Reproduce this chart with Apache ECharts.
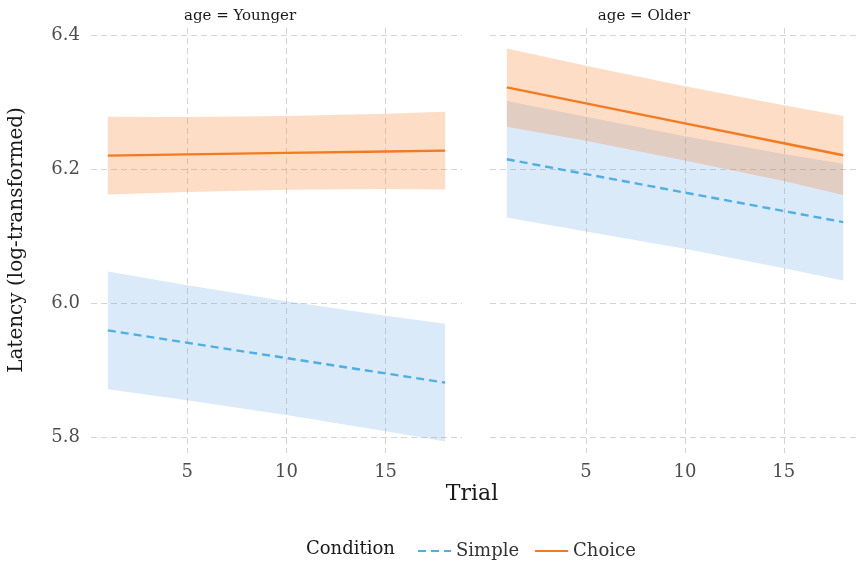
<!DOCTYPE html>
<html>
<head>
<meta charset="utf-8">
<script src="https://cdn.jsdelivr.net/npm/echarts@6/dist/echarts.min.js"></script>
<style>
  html, body { margin: 0; padding: 0; background: #fff; }
  #chart { width: 860px; height: 563px; }
</style>
</head>
<body>
<div id="chart"></div>
<script>
// Trials at which the fitted values and intervals are given
const trials = [1, 5, 10, 15, 18];
const xTicks = [5, 10, 15];
const yTicks = [5.8, 6.0, 6.2, 6.4];

// Younger participants
const youngChoiceFit   = [6.220, 6.2218, 6.224, 6.2262, 6.2275];
const youngChoiceUpper = [6.278, 6.2778, 6.279, 6.2825, 6.2855];
const youngChoiceLower = [6.162, 6.1658, 6.169, 6.170, 6.1695];
const youngSimpleFit   = [5.959, 5.9406, 5.9177, 5.8948, 5.881];
const youngSimpleUpper = [6.047, 6.0266, 6.0027, 5.981, 5.969];
const youngSimpleLower = [5.871, 5.8546, 5.8327, 5.8086, 5.793];

// Older participants
const oldChoiceFit   = [6.3218, 6.298, 6.2682, 6.2384, 6.2205];
const oldChoiceUpper = [6.380, 6.354, 6.3237, 6.295, 6.279];
const oldChoiceLower = [6.263, 6.242, 6.2127, 6.182, 6.161];
const oldSimpleFit   = [6.2145, 6.1924, 6.1648, 6.1372, 6.1207];
const oldSimpleUpper = [6.3015, 6.278, 6.249, 6.2225, 6.2077];
const oldSimpleLower = [6.1275, 6.1068, 6.0808, 6.052, 6.0337];

const FONT = '"DejaVu Serif", serif';
const ORANGE = '#F47A1F';
const BLUE = '#4DAFE5';
const ORANGE_FILL = 'rgba(248,118,28,0.25)';
const BLUE_FILL = 'rgba(86,160,224,0.22)';

function pairs(ys) { return trials.map((t, i) => [t, ys[i]]); }

// Confidence ribbon drawn as a single polygon through the axis scales
function ribbon(gi, upper, lower, fill) {
  return {
    type: 'custom', xAxisIndex: gi, yAxisIndex: gi,
    silent: true, z: 1,
    data: trials.map((t, i) => [t, lower[i], upper[i]]),
    renderItem: function (params, api) {
      if (params.dataIndex !== 0) return null;
      const pts = [];
      for (let i = 0; i < trials.length; i++) pts.push(api.coord([trials[i], upper[i]]));
      for (let i = trials.length - 1; i >= 0; i--) pts.push(api.coord([trials[i], lower[i]]));
      return { type: 'polygon', shape: { points: pts }, style: { fill: fill } };
    }
  };
}

function fitLine(name, gi, ys, color, dashed) {
  return {
    type: 'line', name: name, xAxisIndex: gi, yAxisIndex: gi,
    data: pairs(ys), symbol: 'none', z: 3, silent: true,
    lineStyle: { color: color, width: 2.4, type: dashed ? [8, 5] : 'solid' },
    itemStyle: { color: color }
  };
}

const splitStyle = { show: true, lineStyle: { color: '#d4d4d4', width: 1, type: [6, 4] } };

function xAxis(gi) {
  return {
    type: 'value', gridIndex: gi, min: 0.15, max: 18.85,
    axisLine: { show: false }, axisTick: { show: false, customValues: xTicks },
    axisLabel: { customValues: xTicks, color: '#4d4d4d', fontFamily: FONT, fontSize: 18, margin: 10 },
    splitLine: splitStyle
  };
}
function yAxis(gi, showLabels) {
  return {
    type: 'value', gridIndex: gi, min: 5.776, max: 6.4105,
    axisLine: { show: false }, axisTick: { show: false, customValues: yTicks },
    axisLabel: {
      show: showLabels, customValues: yTicks, color: '#4d4d4d', fontFamily: FONT, fontSize: 18, margin: 11,
      formatter: v => v.toFixed(1)
    },
    splitLine: splitStyle
  };
}

const chart = echarts.init(document.getElementById('chart'), null, { renderer: 'canvas' });
chart.setOption({
  animation: false,
  backgroundColor: '#ffffff',
  grid: [
    { left: 91, width: 371, top: 28, height: 425 },
    { left: 490, width: 370, top: 28, height: 425 }
  ],
  xAxis: [xAxis(0), xAxis(1)],
  yAxis: [yAxis(0, true), yAxis(1, false)],
  legend: {
    orient: 'horizontal', left: 412, top: 537, itemWidth: 33, itemHeight: 18, itemGap: 15,
    data: ['Simple', 'Choice'],
    itemStyle: { opacity: 0 },
    textStyle: { fontFamily: FONT, fontSize: 18, color: '#333' }
  },
  graphic: [
    { type: 'text', x: 240, y: 16, style: { text: 'age = Younger', font: '15px ' + FONT, fill: '#1a1a1a', textAlign: 'center', textVerticalAlign: 'middle' } },
    { type: 'text', x: 644, y: 16, style: { text: 'age = Older', font: '15px ' + FONT, fill: '#1a1a1a', textAlign: 'center', textVerticalAlign: 'middle' } },
    { type: 'text', x: 472, y: 494, style: { text: 'Trial', font: '22px ' + FONT, fill: '#1a1a1a', textAlign: 'center', textVerticalAlign: 'middle' } },
    { type: 'text', x: 17, y: 240, rotation: Math.PI / 2, style: { text: 'Latency (log-transformed)', font: '20px ' + FONT, fill: '#1a1a1a', textAlign: 'center', textVerticalAlign: 'middle' } },
    { type: 'text', x: 306, y: 549, style: { text: 'Condition', font: '18px ' + FONT, fill: '#1a1a1a', textAlign: 'left', textVerticalAlign: 'middle' } }
  ],
  series: [
    ribbon(0, youngSimpleUpper, youngSimpleLower, BLUE_FILL),
    ribbon(0, youngChoiceUpper, youngChoiceLower, ORANGE_FILL),
    ribbon(1, oldSimpleUpper, oldSimpleLower, BLUE_FILL),
    ribbon(1, oldChoiceUpper, oldChoiceLower, ORANGE_FILL),
    fitLine('Simple', 0, youngSimpleFit, BLUE, true),
    fitLine('Choice', 0, youngChoiceFit, ORANGE, false),
    fitLine('Simple', 1, oldSimpleFit, BLUE, true),
    fitLine('Choice', 1, oldChoiceFit, ORANGE, false)
  ]
});
</script>
</body>
</html>
